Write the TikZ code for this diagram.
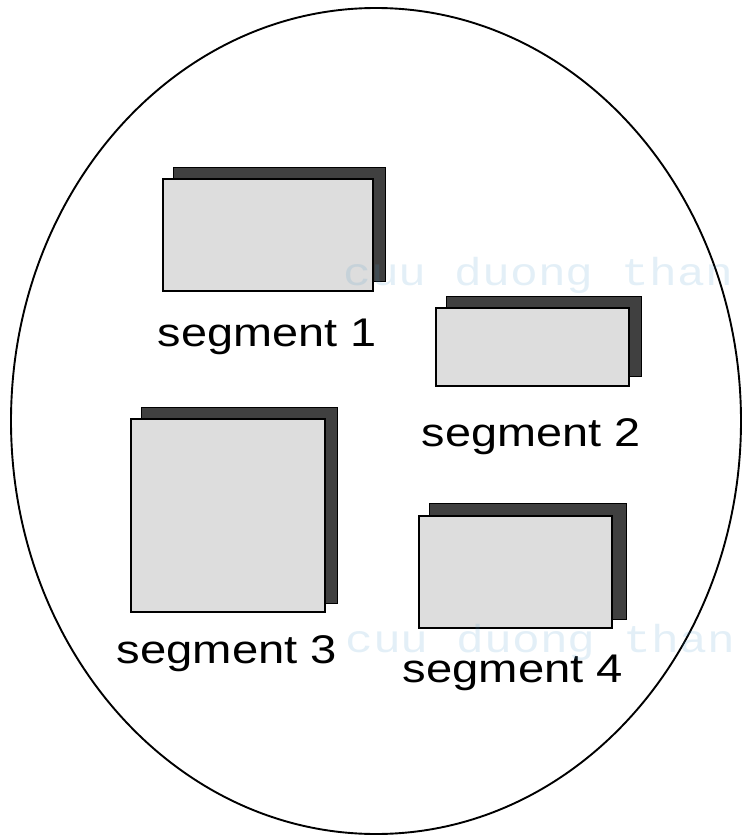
\documentclass[tikz,border=0pt]{standalone}
\usepackage{fontspec}
\setmainfont{Liberation Sans}
\newfontfamily\wmfont{Liberation Mono}
\usepackage{graphicx}
\definecolor{shadowgray}{HTML}{404040}
\definecolor{boxgray}{HTML}{DDDDDD}
\definecolor{wmblue}{RGB}{70,150,200}
\begin{document}
\begin{tikzpicture}[x=1pt,y=-1pt,
  frontbox/.style={draw=black, line width=2.6pt, fill=boxgray},
  shadowbox/.style={draw=black, line width=0.8pt, fill=shadowgray},
  seglabel/.style={inner sep=0pt, anchor=base, font=\fontsize{40}{48}\selectfont},
  wm/.style={anchor=base west, inner sep=0pt, text=wmblue, text opacity=0.15, font=\wmfont\fontsize{39}{46}\selectfont}]
\useasboundingbox (0,0) rectangle (742,840);
% outer ellipse
\draw[line width=1.9pt] (376,421) ellipse [x radius=365, y radius=413];
% segment 1
\draw[shadowbox] (173,167) rectangle (385,281);
\draw[frontbox] (163,179) rectangle (373,291);
\node[seglabel] (l1) at (267,346) {\scalebox{1.17}[1]{segment 1}};
% segment 2
\draw[shadowbox] (446,296) rectangle (641,376);
\draw[frontbox] (436,308) rectangle (629,386);
\node[seglabel] (l2) at (531,446) {\scalebox{1.17}[1]{segment 2}};
% segment 3
\draw[shadowbox] (141,407) rectangle (337,603);
\draw[frontbox] (131,419) rectangle (325,612);
\node[seglabel] (l3) at (227,663) {\scalebox{1.18}[1]{segment 3}};
% segment 4
\draw[shadowbox] (429,503) rectangle (626,619);
\draw[frontbox] (419,516) rectangle (612,628);
\node[seglabel] (l4) at (513,682) {\scalebox{1.18}[1]{segment 4}};
% watermarks
\node[wm] (w1) at (343,285) {\scalebox{1.19}[1]{cuu duong than}};
\node[wm] (w2) at (345,652) {\scalebox{1.19}[1]{cuu duong than}};
\end{tikzpicture}
\end{document}
